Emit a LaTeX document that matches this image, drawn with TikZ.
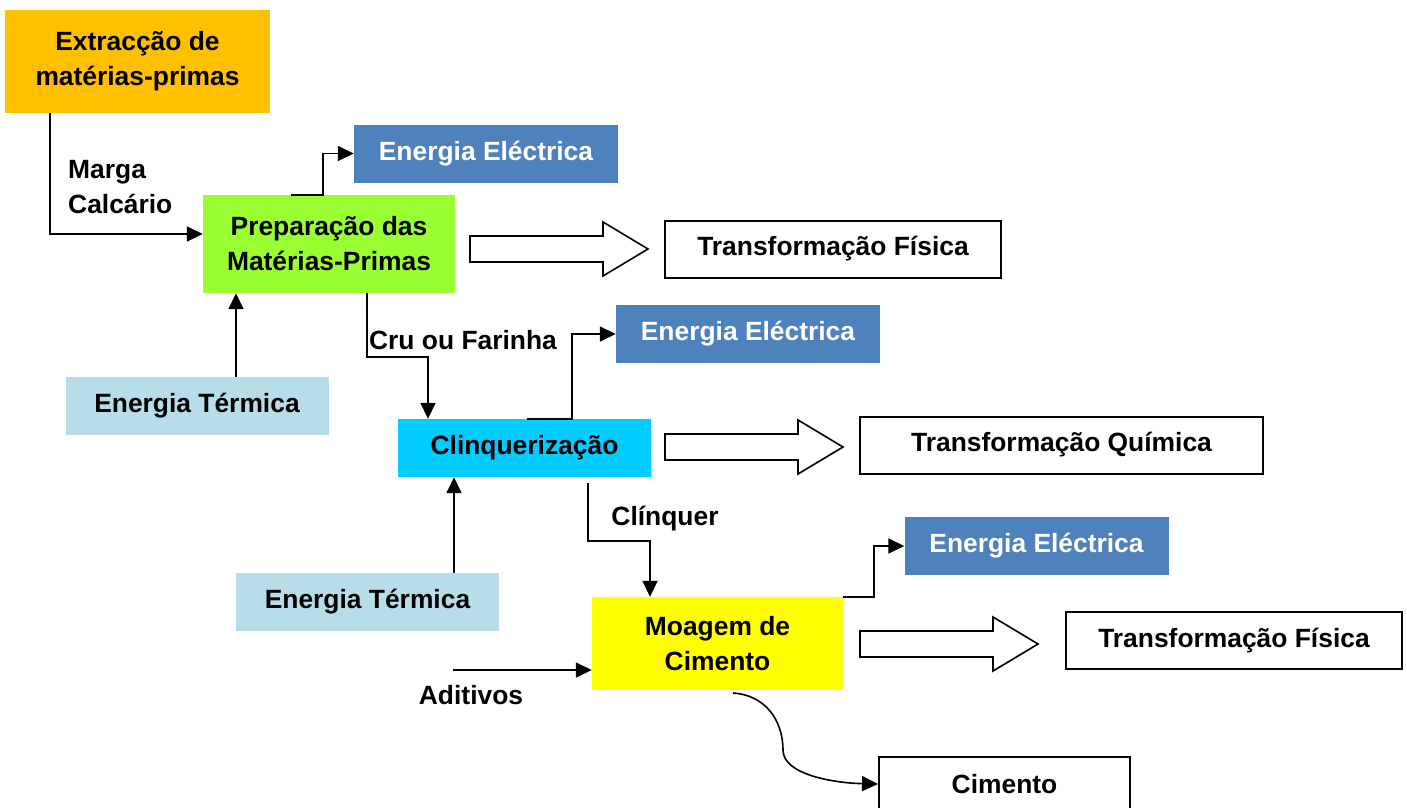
\documentclass[tikz,border=0pt]{standalone}
\usepackage{fontspec}
\setmainfont{Liberation Sans}
\usepackage{tikz}
\usetikzlibrary{arrows.meta}

\definecolor{extrorange}{HTML}{FFC000}
\definecolor{elecblue}{HTML}{4F81BD}
\definecolor{prepgreen}{HTML}{99FF33}
\definecolor{heatblue}{HTML}{B7DEE8}
\definecolor{clinqcyan}{HTML}{00CCFF}
\definecolor{moagyellow}{HTML}{FFFF00}

% hollow block arrow, #1,#2 = tail centre
\newcommand{\fatarrow}[2]{%
  \draw[line width=1.6pt, line join=miter] (#1,#2) ++(0,-13) -- ++(133,0) -- ++(0,-14)
    -- ++(45,27) -- ++(-45,27) -- ++(0,-14) -- ++(-133,0) -- cycle;}

\begin{document}
\begin{tikzpicture}[
    x=1pt, y=-1pt,
    font=\fontsize{26.4}{35}\selectfont\bfseries,
    box/.style={
      rectangle,
      inner sep=0pt,
      align=center
    },
    energy/.style={box, fill=elecblue, text=white, minimum width=264, minimum height=58},
    heat/.style={box, fill=heatblue, minimum width=263, minimum height=58},
    result/.style={box, draw, line width=2pt, minimum height=57},
    flow/.style={line width=1.6pt, -{Triangle[length=16pt,width=15pt]}}
  ]
  \useasboundingbox (0,0) rectangle (1407,807);

  % process boxes
  \node[box, fill=extrorange, minimum width=265, minimum height=103] (extr) at (137.5,61.5)
    {Extracção de\\matérias-primas};
  \node[box, fill=prepgreen, minimum width=252, minimum height=98] (prep) at (329,244)
    {Preparação das\\Matérias-Primas};
  \node[box, fill=clinqcyan, minimum width=253, minimum height=58] (clinq) at (524.5,448)
    {Clinquerização};
  \node[box, fill=moagyellow, minimum width=251, minimum height=93] (moag) at (717.5,643.5)
    {Moagem de\\Cimento};

  % energy inputs / outputs
  \node[energy] (elecA) at (486,153.5) {Energia Eléctrica};
  \node[energy] (elecB) at (748,334) {Energia Eléctrica};
  \node[energy] (elecC) at (1036.5,546) {Energia Eléctrica};
  \node[heat] (heatA) at (197,406) {Energia Térmica};
  \node[heat] (heatB) at (367.5,602) {Energia Térmica};

  % results
  \node[result, minimum width=336] (fisA) at (833,249) {Transformação Física};
  \node[result, minimum width=403] (quim) at (1061.5,445) {Transformação Química};
  \node[result, minimum width=336] (fisB) at (1234,640.5) {Transformação Física};
  \node[result, minimum width=251, minimum height=54] (cim) at (1004.5,784) {Cimento};

  % labels
  \node[box, anchor=west, align=left] (marga) at (68,187) {Marga\\Calcário};
  \node[box] (cru) at (463,340) {Cru ou Farinha};
  \node[box] (clinker) at (665,519) {Clínquer};
  \node[box] (adit) at (471,695) {Aditivos};
  \coordinate (aditstart) at (453,670);

  % connectors
  \draw[flow] (50,0 |- extr.south) |- (prep.west |- 0,234);
  \draw[flow] (291,0 |- prep.north) -| (323,0 |- elecA.west) -- (elecA.west);
  \draw[flow] (236,0 |- heatA.north) -- (236,0 |- prep.south);
  \draw[flow] (367,0 |- prep.south) |- (428,357) -- (428,0 |- clinq.north);
  \draw[flow] (527,0 |- clinq.north) -| (572,0 |- elecB.west) -- (elecB.west);
  \draw[flow] (454,0 |- heatB.north) -- (454,0 |- clinq.south);
  \draw[flow] (588,483) |- (650,541) -- (650,0 |- moag.north);
  \draw[flow] (moag.north east) -| (874,0 |- elecC.west) -- (elecC.west);
  \draw[flow] (aditstart) -- (moag.west |- aditstart);
  \draw[flow] (733,693) .. controls (765,695) and (783,720) .. (783,750)
    .. controls (783,775) and (835,783) .. (cim.west);

  % block arrows
  \fatarrow{470}{249}
  \fatarrow{665}{447}
  \fatarrow{860}{644}
\end{tikzpicture}
\end{document}
